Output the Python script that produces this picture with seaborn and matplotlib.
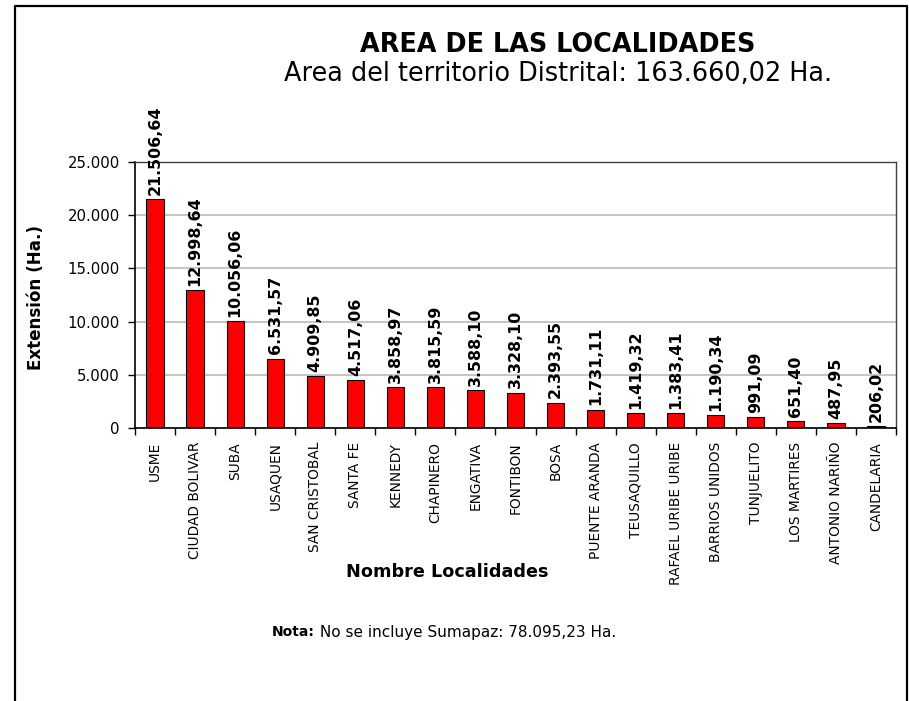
import matplotlib
matplotlib.use("Agg")
import matplotlib.pyplot as plt
import seaborn as sns
from matplotlib.lines import Line2D
from matplotlib.ticker import FuncFormatter, FixedLocator

# --- datos ---
localidades = [
    "USME", "CIUDAD BOLIVAR", "SUBA", "USAQUEN", "SAN CRISTOBAL", "SANTA FE",
    "KENNEDY", "CHAPINERO", "ENGATIVA", "FONTIBON", "BOSA", "PUENTE ARANDA",
    "TEUSAQUILLO", "RAFAEL URIBE URIBE", "BARRIOS UNIDOS", "TUNJUELITO",
    "LOS MARTIRES", "ANTONIO NARIÑO", "CANDELARIA",
]
area_ha = [
    21506.64, 12998.64, 10056.06, 6531.57, 4909.85, 4517.06, 3858.97, 3815.59,
    3588.10, 3328.10, 2393.55, 1731.11, 1419.32, 1383.41, 1190.34, 991.09,
    651.40, 487.95, 206.02,
]
y_ticks = [0, 5000, 10000, 15000, 20000, 25000]

titulo = "AREA DE LAS LOCALIDADES"
subtitulo = "Area del territorio Distrital: 163.660,02 Ha."
nota_bold = "Nota:"
nota_txt = " No se incluye Sumapaz: 78.095,23 Ha."


def fmt_es(v, dec=2):
    """formato numerico en español: 12.998,64"""
    s = f"{v:,.{dec}f}"
    return s.replace(",", "X").replace(".", ",").replace("X", ".")


sns.set_style("white")
plt.rcParams["font.family"] = ["DejaVu Sans"]
plt.rcParams["text.color"] = "black"
plt.rcParams["axes.labelcolor"] = "black"
plt.rcParams["xtick.color"] = "black"
plt.rcParams["ytick.color"] = "black"

W, H = 909, 701
fig = plt.figure(figsize=(W / 100, H / 100), dpi=100)
ax = fig.add_axes([135 / W, 1 - 428 / H, (896 - 135) / W, (428 - 162) / H])

sns.barplot(
    x=localidades, y=area_ha, color="#ff0000", saturation=1,
    edgecolor="black", linewidth=0.8, width=0.43, ax=ax,
)

# etiquetas de valor encima de cada barra
for i, v in enumerate(area_ha):
    ax.annotate(
        fmt_es(v), (i, v), xytext=(0, 3), textcoords="offset points",
        rotation=90, ha="center", va="bottom", fontsize=11.4,
        fontweight="bold", clip_on=False,
    )

ax.set_xlim(-0.5, len(localidades) - 0.5)
ax.set_ylim(0, 25000)
ax.yaxis.set_major_locator(FixedLocator(y_ticks))
ax.yaxis.set_major_formatter(FuncFormatter(lambda v, p: fmt_es(v, 0)))
ax.grid(axis="y", color="#c0c0c0", linewidth=1.3)
ax.set_axisbelow(True)

ax.tick_params(axis="y", left=True, length=5, width=1, pad=6, labelsize=10.7)
ax.tick_params(axis="x", which="major", length=0, pad=10, labelsize=9.9,
               rotation=90)
ax.set_xticks([i - 0.5 for i in range(len(localidades) + 1)], minor=True)
ax.tick_params(axis="x", which="minor", bottom=True, length=5, width=1)
for lbl in ax.get_xticklabels():
    lbl.set_va("top")

for side in ["left", "bottom"]:
    ax.spines[side].set_color("black")
    ax.spines[side].set_linewidth(1.2)
for side in ["top", "right"]:
    ax.spines[side].set_visible(True)
    ax.spines[side].set_color("#404040")
    ax.spines[side].set_linewidth(1.0)

ax.set_xlabel("")
ax.set_ylabel("Extensión (Ha.)", fontsize=12.1, fontweight="bold")
ax.yaxis.set_label_coords(45 / W, 1 - 297 / H, transform=fig.transFigure)

# textos de la figura
fig.text(558 / W, 1 - 45 / H, titulo, ha="center", va="center",
         fontsize=18.4, fontweight="bold")
fig.text(558 / W, 1 - 74 / H, subtitulo, ha="center", va="center",
         fontsize=18.4)
fig.text(447 / W, 1 - 572 / H, "Nombre Localidades", ha="center",
         va="center", fontsize=12.7, fontweight="bold")

t1 = fig.text(272 / W, 1 - 632 / H, nota_bold, ha="left", va="center",
              fontsize=10, fontweight="bold")
fig.canvas.draw()
bb = t1.get_window_extent(fig.canvas.get_renderer())
fig.text(bb.x1 / W, 1 - 632 / H, nota_txt, ha="left", va="center",
         fontsize=11)

# marco exterior (sin borde inferior)
xs = [15 / W, 15 / W, 907 / W, 907 / W]
ys = [0, 1 - 6 / H, 1 - 6 / H, 0]
fig.add_artist(Line2D(xs, ys, transform=fig.transFigure, color="black",
                      linewidth=1.6))

fig.savefig("out.png", dpi=100)
